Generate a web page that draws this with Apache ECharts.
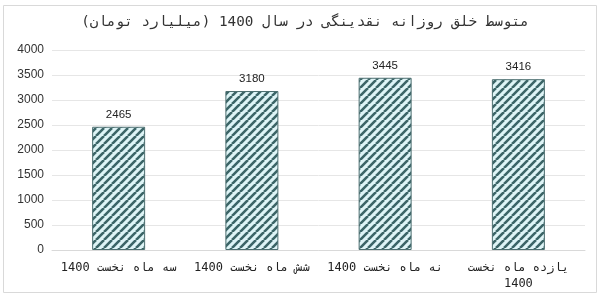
<!DOCTYPE html>
<html><head><meta charset="utf-8">
<script src="https://cdn.jsdelivr.net/npm/echarts@6/dist/echarts.min.js"></script>
<style>html,body{margin:0;padding:0;background:#fff}#c{width:600px;height:296px}</style>
</head><body><div id="c"></div>
<script>
const categories = ['سه ماه نخست 1400', 'شش ماه نخست 1400', 'نه ماه نخست 1400', 'یازده ماه نخست\n1400'];
const values = [2465, 3180, 3445, 3416];
const yTicks = [0, 500, 1000, 1500, 2000, 2500, 3000, 3500, 4000];
const titleText = 'متوسط خلق روزانه نقدینگی در سال 1400 (میلیارد تومان)';

function makePattern() {
  const s = 8;
  const cv = document.createElement('canvas');
  cv.width = s; cv.height = s;
  const ctx = cv.getContext('2d');
  ctx.fillStyle = '#def4f6';
  ctx.fillRect(0, 0, s, s);
  ctx.strokeStyle = '#3b6567';
  ctx.lineWidth = 2.6;
  ctx.beginPath();
  for (let k = -1; k <= 1; k++) {
    ctx.moveTo(k * s, s);
    ctx.lineTo(k * s + s, 0);
  }
  ctx.stroke();
  return cv;
}

const chart = echarts.init(document.getElementById('c'), null, {renderer: 'canvas'});
chart.setOption({
  animation: false,
  graphic: [{
    type: 'rect', shape: {x: 3.5, y: 5.5, width: 593, height: 287},
    style: {fill: 'none', stroke: '#d9d9d9', lineWidth: 1}, z: -1
  }, {
    type: 'text', x: 305, y: 22,
    style: {text: titleText, font: '14.3px "DejaVu Sans Mono"', fill: '#333', align: 'center', verticalAlign: 'middle'}
  }],
  grid: {left: 52, right: 15, top: 50, bottom: 46, containLabel: false},
  xAxis: {
    type: 'category', data: categories,
    axisLine: {lineStyle: {color: '#d9d9d9'}},
    axisTick: {show: false},
    axisLabel: {color: '#222', fontFamily: 'DejaVu Sans Mono', fontSize: 12, margin: 10, lineHeight: 16, interval: 0}
  },
  yAxis: {
    type: 'value', min: 0, max: 4000, interval: 500,
    axisLine: {show: false}, axisTick: {show: false},
    splitLine: {lineStyle: {color: '#e6e6e6'}},
    axisLabel: {color: '#333', fontFamily: 'Liberation Sans', fontSize: 12, margin: 8,
      formatter: v => yTicks.includes(v) ? String(v) : ''}
  },
  series: [{
    type: 'bar', data: values, barWidth: 53,
    itemStyle: {color: {image: makePattern(), repeat: 'repeat'}, borderColor: '#4d6f70', borderWidth: 1},
    label: {show: true, position: 'top', color: '#222', fontFamily: 'Liberation Sans', fontSize: 11.5, distance: 6}
  }]
});
</script></body></html>
